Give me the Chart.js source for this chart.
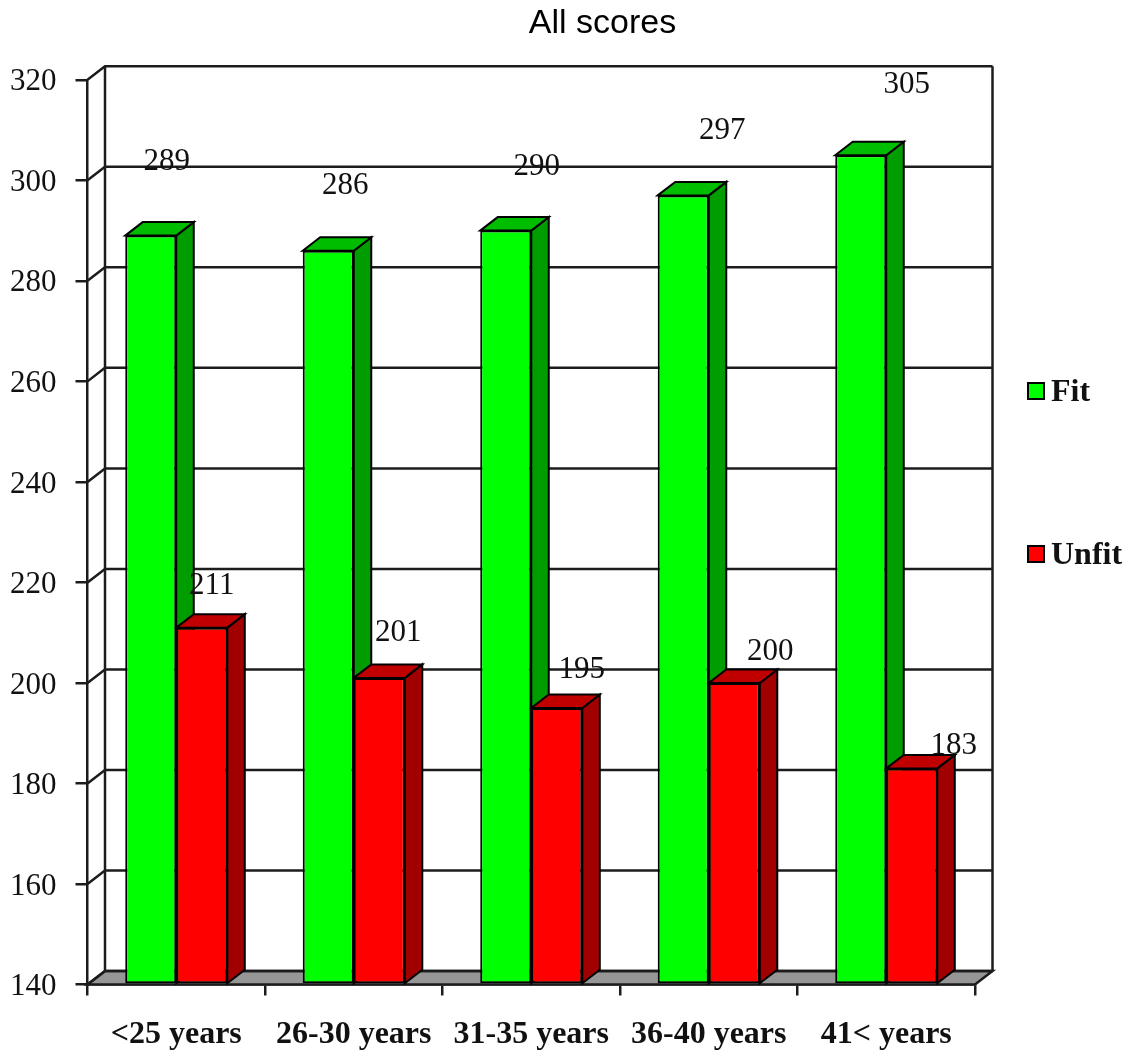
<!DOCTYPE html>
<html>
<head>
<meta charset="utf-8">
<title>All scores</title>
<script src="https://cdn.jsdelivr.net/npm/chart.js@4"></script>
<style>
    body { margin: 0; background: #fff; }
    canvas { display: block; }
</style>
</head>
<body>
<canvas id="Chart" width="1130" height="1050"></canvas>
<script>
const categories = ["<25 years", "26-30 years", "31-35 years", "36-40 years", "41< years"];
const fit = [289, 286, 290, 297, 305];
const unfit = [211, 201, 195, 200, 183];
const yTicks = [140, 160, 180, 200, 220, 240, 260, 280, 300, 320];

// depth of the box and the bars
const depthX = 17.5;
const depthY = 13.5;
const lineColor = "#1c1c1c";
const serif = "'Liberation Serif', serif";

// faces per dataset
const faces = [
    { side: "#009d00", top: "#00bd00" },
    { side: "#a00000", top: "#c00000" },
];
// value labels sit away from their bars: [dx, dy] from the bar's top centre
const labelShift = [
    [[16, -74], [17, -65], [31, -64], [39, -65], [46, -70]],
    [[10, -42], [19, -45], [25, -38], [36, -31], [42, -23]],
];
// legend rows, y centre of each
const legendRows = [391, 554];

function poly(ctx, pts, fill) {
    ctx.beginPath();
    pts.forEach((p, i) => i ? ctx.lineTo(p[0], p[1]) : ctx.moveTo(p[0], p[1]));
    ctx.closePath();
    if (fill) {
        ctx.fillStyle = fill;
        ctx.fill();
    }
    ctx.stroke();
}

const box3d = {
    id: "box3d",
    afterLayout(chart) {
        // title is centred over the plot and legend, not the whole page
        chart.titleBlock.left = 75;
        chart.titleBlock.right = 1130;
        // y labels hang a little below their tick marks
        chart.scales.y.getLabelItems().forEach(item => {
            item.options.translation[1] += 2.5;
        });
    },
    beforeDatasetsDraw(chart) {
        const ctx = chart.ctx;
        const { left, right, bottom, top } = chart.chartArea;
        const y = chart.scales.y;
        ctx.save();
        ctx.strokeStyle = lineColor;
        ctx.lineWidth = 2.5;

        // floor
        poly(ctx, [[left, bottom], [left + depthX, bottom - depthY],
            [right + depthX, bottom - depthY], [right, bottom]], "#969696");

        // back wall and side wall lines
        yTicks.forEach(v => {
            const py = y.getPixelForValue(v);
            ctx.beginPath();
            ctx.moveTo(left, py);
            ctx.lineTo(left + depthX, py - depthY);
            ctx.lineTo(right + depthX, py - depthY);
            ctx.stroke();
        });
        ctx.beginPath();
        ctx.moveTo(left + depthX, top - depthY);
        ctx.lineTo(left + depthX, bottom - depthY);
        ctx.moveTo(right + depthX, top - depthY);
        ctx.lineTo(right + depthX, bottom - depthY);
        ctx.stroke();

        // top and side faces of the bars, green first so red overlaps it
        ctx.lineWidth = 2;
        ctx.strokeStyle = "#000";
        chart.data.datasets.forEach((ds, d) => {
            chart.getDatasetMeta(d).data.forEach(bar => {
                const x0 = bar.x - bar.width / 2;
                const x1 = bar.x + bar.width / 2;
                poly(ctx, [[x1, bar.y], [x1 + depthX, bar.y - depthY],
                    [x1 + depthX, bar.base - depthY], [x1, bar.base]], faces[d].side);
                poly(ctx, [[x0, bar.y], [x0 + depthX, bar.y - depthY],
                    [x1 + depthX, bar.y - depthY], [x1, bar.y]], faces[d].top);
            });
        });
        ctx.restore();
    },
    afterDatasetsDraw(chart) {
        const ctx = chart.ctx;
        ctx.save();
        ctx.fillStyle = "#111";
        ctx.font = "31px " + serif;
        ctx.textAlign = "center";
        ctx.textBaseline = "middle";
        chart.data.datasets.forEach((ds, d) => {
            chart.getDatasetMeta(d).data.forEach((bar, i) => {
                const s = labelShift[d][i];
                ctx.fillText(ds.data[i], bar.x + s[0], bar.y + s[1]);
            });
        });

        // legend
        ctx.textAlign = "left";
        ctx.font = "bold 32px " + serif;
        chart.data.datasets.forEach((ds, d) => {
            const cy = legendRows[d];
            ctx.fillStyle = ds.backgroundColor;
            ctx.strokeStyle = "#000";
            ctx.lineWidth = 2;
            ctx.fillRect(1028, cy - 8, 16, 16);
            ctx.strokeRect(1028, cy - 8, 16, 16);
            ctx.fillStyle = "#111";
            ctx.fillText(ds.label, 1051, cy + 2);
        });
        ctx.restore();
    },
};

const ctx = document.getElementById("Chart");
const chart = new Chart(ctx, {
    type: "bar",
    data: {
        labels: categories,
        datasets: [
            {
                label: "Fit",
                data: fit,
                base: yTicks[0],
                backgroundColor: "#00ff00",
                borderColor: "#000",
                borderWidth: 2,
                borderSkipped: false,
            },
            {
                label: "Unfit",
                data: unfit,
                base: yTicks[0],
                backgroundColor: "#ff0000",
                borderColor: "#000",
                borderWidth: 2,
                borderSkipped: false,
            },
        ],
    },
    plugins: [box3d],
    options: {
        responsive: false,
        animation: false,
        layout: { padding: { top: 0, right: 155, bottom: 0, left: 0 } },
        datasets: { bar: { categoryPercentage: 0.575, barPercentage: 1 } },
        plugins: {
            legend: { display: false },
            tooltip: { enabled: false },
            title: {
                display: true,
                text: "All scores",
                color: "#000",
                font: { family: "'Liberation Sans', sans-serif", size: 34, weight: "normal" },
                padding: { top: 3, bottom: 36 },
            },
        },
        scales: {
            x: {
                afterFit(scale) { scale.height = 65.5; },
                border: { display: true, color: lineColor, width: 2.5 },
                grid: { drawOnChartArea: false, drawTicks: true, tickLength: 11, color: lineColor, lineWidth: 2.5 },
                ticks: {
                    color: "#111",
                    padding: 20,
                    maxRotation: 0,
                    font: { family: serif, size: 32, weight: "bold" },
                },
            },
            y: {
                min: 140,
                max: 320,
                afterFit(scale) { scale.width = 87.5; },
                afterBuildTicks(scale) { scale.ticks = yTicks.map(v => ({ value: v })); },
                border: { display: true, color: lineColor, width: 2.5 },
                grid: { drawOnChartArea: false, drawTicks: true, tickLength: 12, color: lineColor, lineWidth: 2.5 },
                ticks: {
                    color: "#111",
                    padding: 19,
                    font: { family: serif, size: 31 },
                },
            },
        },
    },
});
</script>
</body>
</html>
